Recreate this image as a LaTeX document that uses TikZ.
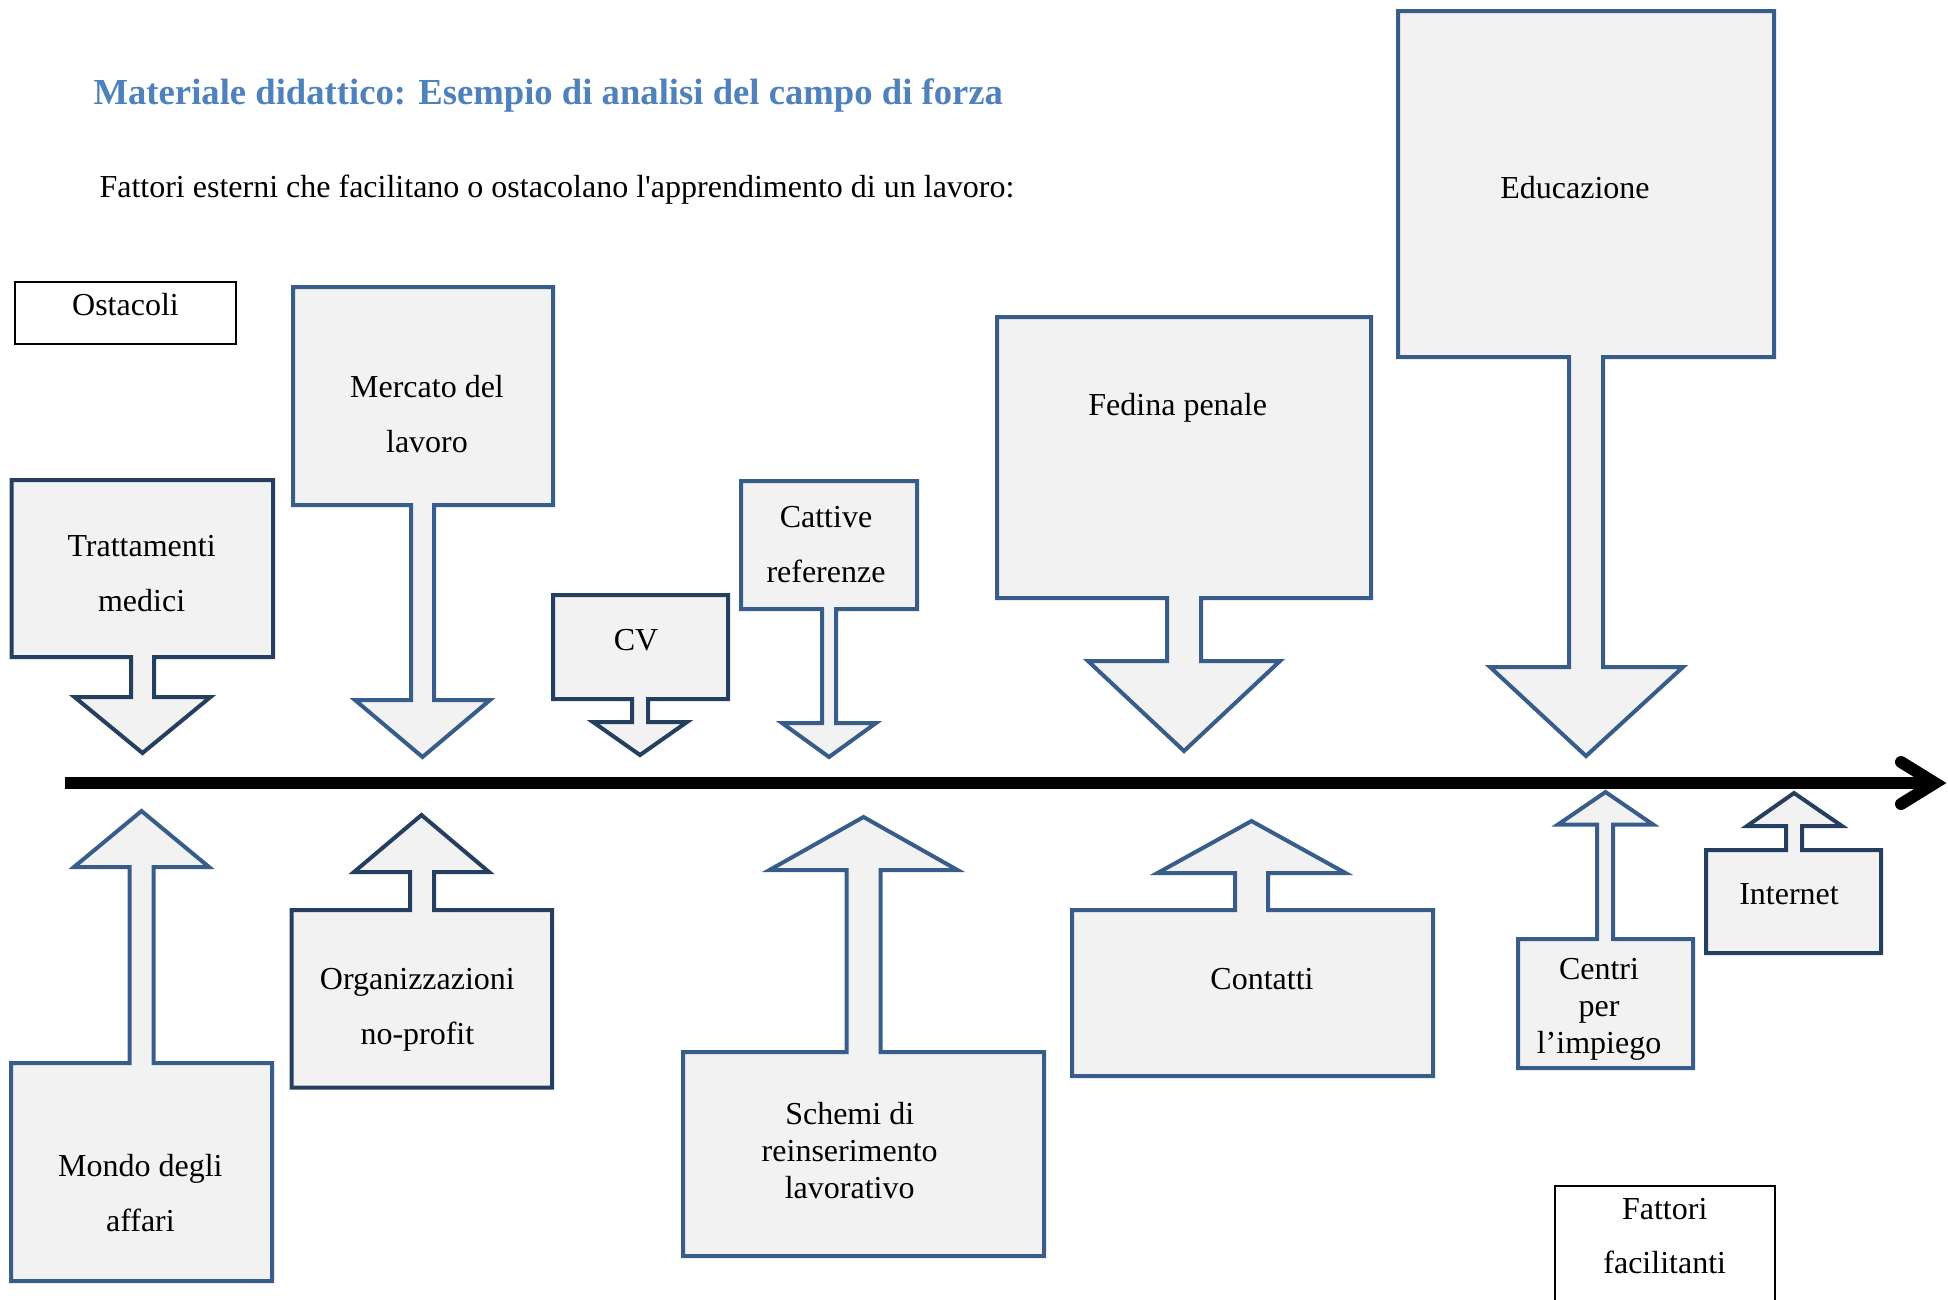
\documentclass[tikz,border=0pt]{standalone}
\usepackage{fontspec}
\setmainfont{Liberation Serif}
\newfontfamily\rawserif{Liberation Serif}[Ligatures=Common]
\definecolor{darkline}{RGB}{36,63,96}
\definecolor{midline}{RGB}{56,93,138}
\definecolor{boxfill}{RGB}{242,242,242}
\definecolor{titleblue}{RGB}{79,129,189}
\tikzset{
  darkshape/.style={draw=darkline, fill=boxfill, line width=1.5pt},
  midshape/.style={draw=midline, fill=boxfill, line width=1.5pt},
  lbl/.style={font=\fontsize{12pt}{20.6pt}\selectfont, align=center, inner sep=0pt},
  lbltight/.style={font=\fontsize{12pt}{13.9pt}\selectfont, align=center, inner sep=0pt},
  legendbox/.style={draw=black, line width=1pt},
  axisline/.style={draw=black, line width=4.5pt}
}
\begin{document}
\begin{tikzpicture}[x=0.375pt, y=-0.375pt]
\useasboundingbox (0,0) rectangle (1948,1299);

% title and subtitle
\node[anchor=base west, inner sep=0pt, font=\fontsize{13.75pt}{16pt}\selectfont\bfseries, text=titleblue] (title) at (93,104) {Materiale didattico: Esempio di analisi del campo di forza};
\node[lbl, anchor=west] (sub) at (99,190) {Fattori esterni che facilitano o ostacolano l{\rawserif'}apprendimento di un lavoro:};

% legend boxes
\draw[legendbox] (15,282) rectangle (236,344);
\node[lbl] (ostacoli) at (125.5,305) {Ostacoli};
\draw[legendbox] (1555,1300) -- (1555,1186) -- (1775,1186) -- (1775,1300);
\node[lbl] (fattori) at (1664.7,1236) {Fattori\\facilitanti};

% axis
\coordinate (axstart) at (64.6,783);
\coordinate (axend) at (1935,783);
\coordinate (chevtop) at (1901,762);
\coordinate (chevbot) at (1901,804);
\draw[axisline] (axstart) -- (axend);
\draw[axisline, line cap=round, miter limit=10] (chevtop) -- (axend) -- (chevbot);

% obstacles (down arrows)
\draw[darkshape] (11.5,480) -- (273,480) -- (273,657) -- (154,657) -- (154,697) -- (210.5,697) -- (142.5,753) -- (74.5,697) -- (131,697) -- (131,657) -- (11.5,657) -- cycle;
\node[lbl] (trattamenti) at (141.6,574) {Trattamenti\\medici};

\draw[midshape] (293,287) -- (553,287) -- (553,505) -- (434,505) -- (434,700) -- (490,700) -- (422.5,757) -- (355,700) -- (411,700) -- (411,505) -- (293,505) -- cycle;
\node[lbl] (mercato) at (427,413.7) {Mercato del\\lavoro};

\draw[darkshape] (553,595) -- (728,595) -- (728,699) -- (648,699) -- (648,722) -- (687,722) -- (640,755) -- (593,722) -- (632,722) -- (632,699) -- (553,699) -- cycle;
\node[lbl] (cv) at (636,640) {CV};

\draw[midshape] (741,481) -- (917,481) -- (917,609) -- (836,609) -- (836,723) -- (876,723) -- (829,757) -- (782,723) -- (822,723) -- (822,609) -- (741,609) -- cycle;
\node[lbl] (cattive) at (826,544.8) {Cattive\\referenze};

\draw[midshape] (997,317) -- (1371,317) -- (1371,598) -- (1201,598) -- (1201,661) -- (1280,661) -- (1184,751) -- (1088,661) -- (1167,661) -- (1167,598) -- (997,598) -- cycle;
\node[lbl] (fedina) at (1177.7,408) {Fedina penale};

\draw[midshape] (1398,11) -- (1774,11) -- (1774,357) -- (1603,357) -- (1603,667) -- (1683,667) -- (1586,756) -- (1490,667) -- (1569,667) -- (1569,357) -- (1398,357) -- cycle;
\node[lbl] (educazione) at (1575,187.6) {Educazione};

% facilitating factors (up arrows)
\draw[midshape] (11,1281) -- (272,1281) -- (272,1063) -- (153.5,1063) -- (153.5,867) -- (209,867) -- (141.5,811) -- (74,867) -- (129.5,867) -- (129.5,1063) -- (11,1063) -- cycle;
\node[lbl] (mondo) at (140.4,1193.3) {Mondo degli\\affari};

\draw[darkshape] (291.5,1087.5) -- (552,1087.5) -- (552,910) -- (434,910) -- (434,872) -- (489,872) -- (421.5,815) -- (354,872) -- (410,872) -- (410,910) -- (291.5,910) -- cycle;
\node[lbl] (organizzazioni) at (417.4,1010) {Organizzazioni\\no-profit};

\draw[midshape] (683,1256) -- (1044,1256) -- (1044,1052) -- (880.5,1052) -- (880.5,870) -- (957.5,870) -- (863.5,817) -- (769.5,870) -- (846.5,870) -- (846.5,1052) -- (683,1052) -- cycle;
\node[lbltight] (schemi) at (849.7,1150.4) {Schemi di\\reinserimento\\lavorativo};

\draw[midshape] (1072,1076) -- (1433,1076) -- (1433,910) -- (1268,910) -- (1268,873) -- (1345.5,873) -- (1251.5,821) -- (1157.5,873) -- (1235,873) -- (1235,910) -- (1072,910) -- cycle;
\node[lbl] (contatti) at (1262,979) {Contatti};

\draw[midshape] (1518,1068) -- (1693,1068) -- (1693,939) -- (1613,939) -- (1613,824.5) -- (1653,824.5) -- (1605.5,792) -- (1558,824.5) -- (1597,824.5) -- (1597,939) -- (1518,939) -- cycle;
\node[lbltight] (centri) at (1599,1009) {Centri\\per\\l’impiego};

\draw[darkshape] (1706,953) -- (1881,953) -- (1881,850) -- (1802,850) -- (1802,826) -- (1842,826) -- (1794,793) -- (1747,826) -- (1786,826) -- (1786,850) -- (1706,850) -- cycle;
\node[lbl] (internet) at (1789,894.5) {Internet};
\end{tikzpicture}
\end{document}
